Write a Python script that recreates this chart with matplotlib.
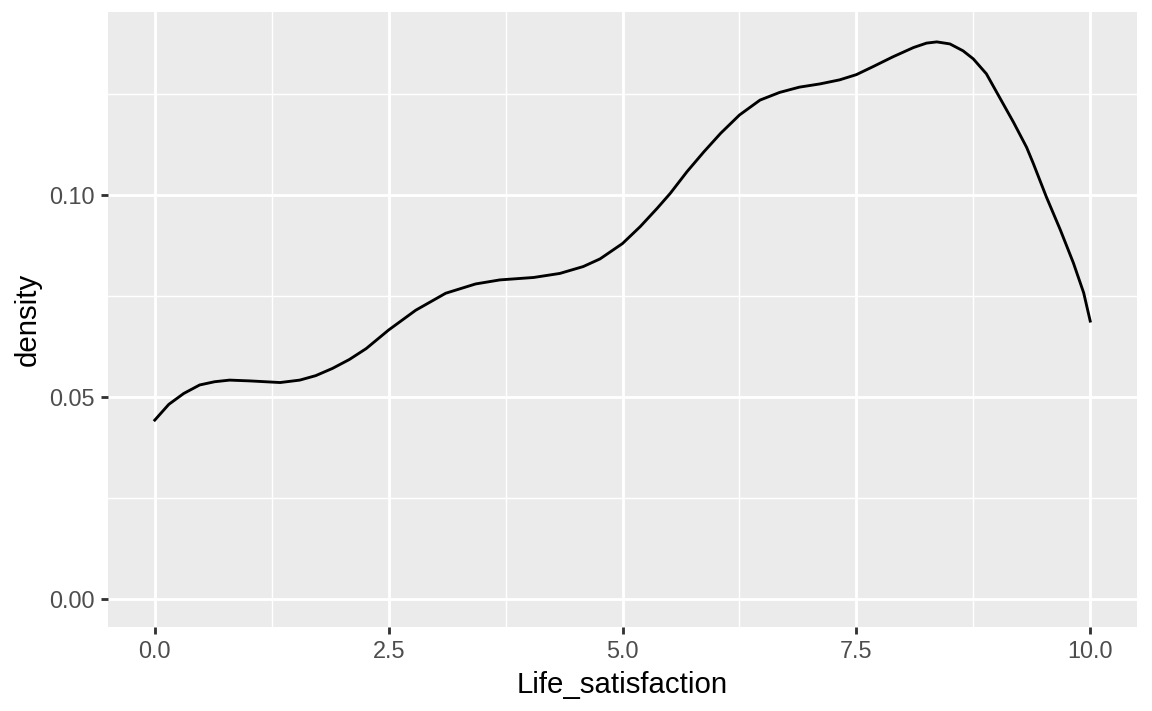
import matplotlib
matplotlib.use("Agg")
import matplotlib.pyplot as plt

## ----------------------------------------------------------------------------
## Data
## ----------------------------------------------------------------------------
life_sat = [0.00, 0.15, 0.31, 0.48, 0.64, 0.80, 1.02, 1.34, 1.55, 1.72, 1.90,
            2.08, 2.26, 2.50, 2.79, 3.11, 3.43, 3.69, 4.05, 4.33, 4.58, 4.76,
            5.00, 5.19, 5.37, 5.51, 5.69, 5.87, 6.05, 6.25, 6.47, 6.68, 6.89,
            7.11, 7.32, 7.50, 7.68, 7.89, 8.11, 8.25, 8.36, 8.50, 8.64, 8.75,
            8.89, 9.03, 9.18, 9.32, 9.39, 9.53, 9.68, 9.82, 9.93, 10.00]
density = [0.0443, 0.0482, 0.0509, 0.0530, 0.0538, 0.0542, 0.0540, 0.0536,
           0.0542, 0.0553, 0.0571, 0.0593, 0.0620, 0.0666, 0.0715, 0.0757,
           0.0780, 0.0790, 0.0796, 0.0806, 0.0823, 0.0842, 0.0880, 0.0922,
           0.0967, 0.1004, 0.1058, 0.1107, 0.1153, 0.1198, 0.1235, 0.1254,
           0.1267, 0.1275, 0.1285, 0.1298, 0.1318, 0.1342, 0.1365, 0.1376,
           0.1379, 0.1374, 0.1357, 0.1337, 0.1300, 0.1242, 0.1180, 0.1118,
           0.1079, 0.0996, 0.0914, 0.0832, 0.0758, 0.0688]

x_ticks = [0.0, 2.5, 5.0, 7.5, 10.0]
x_tick_labels = ["0.0", "2.5", "5.0", "7.5", "10.0"]
y_ticks = [0.00, 0.05, 0.10]
y_tick_labels = ["0.00", "0.05", "0.10"]

## ----------------------------------------------------------------------------
## Plot in a ggplot2 grey style
## ----------------------------------------------------------------------------
def main():
    plt.rcParams['font.family'] = ['Liberation Sans', 'DejaVu Sans']
    fig = plt.figure(figsize=(6, 711 / 192), dpi=192)
    ax = fig.add_axes([108 / 1152, 1 - 627 / 711, 1029 / 1152, 615 / 711])
    ax.set_facecolor('#EBEBEB')

    ax.plot(life_sat, density, color='black', lw=1.07,
            solid_joinstyle='round', zorder=3)

    ax.set_xlim(-0.5, 10.5)
    ax.set_ylim(-0.0069, 0.1453)

    ax.set_xticks(x_ticks)
    ax.set_xticklabels(x_tick_labels)
    ax.set_yticks(y_ticks)
    ax.set_yticklabels(y_tick_labels)
    ax.set_xticks([1.25, 3.75, 6.25, 8.75], minor=True)
    ax.set_yticks([0.025, 0.075, 0.125], minor=True)

    ax.grid(which='major', color='white', lw=1.07, zorder=1)
    ax.grid(which='minor', color='white', lw=0.53, zorder=1)
    ax.set_axisbelow(True)

    for s in ax.spines.values():
        s.set_visible(False)

    ax.tick_params(which='major', length=2.74, width=1.07, color='#333333',
                   labelsize=8.8, labelcolor='#4D4D4D', pad=2.2)
    ax.tick_params(which='minor', length=0)

    ax.set_xlabel('Life_satisfaction', fontsize=11, color='black', labelpad=2.75)
    ax.set_ylabel('density', fontsize=11, color='black', labelpad=2.75)

    fig.savefig('out.png', dpi=192)

if __name__ == "__main__":
    main()
